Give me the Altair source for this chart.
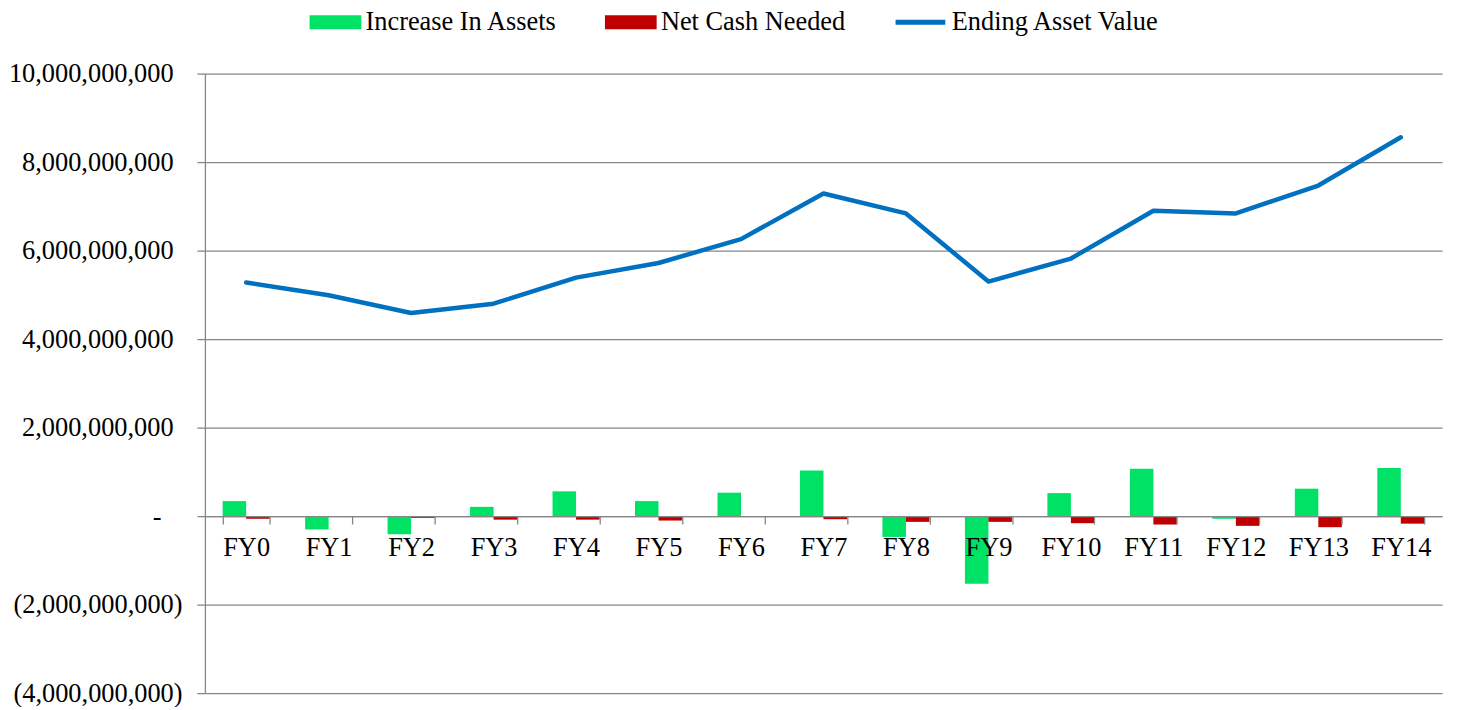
import altair as alt
import pandas as pd

years = ["FY0", "FY1", "FY2", "FY3", "FY4", "FY5", "FY6", "FY7",
         "FY8", "FY9", "FY10", "FY11", "FY12", "FY13", "FY14"]

# values in billions
increase_in_assets = [0.34, -0.30, -0.41, 0.21, 0.56, 0.34, 0.53, 1.03,
                      -0.47, -1.53, 0.52, 1.07, -0.06, 0.62, 1.09]
net_cash_needed = [-0.06, -0.02, -0.04, -0.08, -0.08, -0.10, -0.01, -0.07,
                   -0.13, -0.13, -0.16, -0.19, -0.22, -0.25, -0.17]
ending_asset_value = [5.28, 4.99, 4.59, 4.80, 5.39, 5.72, 6.26, 7.29,
                      6.84, 5.30, 5.82, 6.90, 6.84, 7.47, 8.56]

bar_series = ["Increase In Assets", "Net Cash Needed"]
bar_colors = ["#00E266", "#C00000"]
line_series = ["Ending Asset Value"]
line_colors = ["#0070C0"]
y_ticks = [-4e9, -2e9, 0, 2e9, 4e9, 6e9, 8e9, 10e9]

B = 1e9
bars_rows = []
for y, a, n in zip(years, increase_in_assets, net_cash_needed):
    bars_rows.append({"year": y, "series": bar_series[0], "value": a * B})
    bars_rows.append({"year": y, "series": bar_series[1], "value": n * B})
bars_df = pd.DataFrame(bars_rows)
line_df = pd.DataFrame({"year": years, "series": line_series[0],
                        "value": [v * B for v in ending_asset_value]})

FONT = "Liberation Serif"
FS = 26.5
GRAY = "#868686"
# legend key: 52 x 14 px rectangle drawn with a small nominal symbol size
RECT = "M-3.714,-1L3.714,-1L3.714,1L-3.714,1Z"

label_expr = (
    "datum.value == 0 ? '-' : "
    "(datum.value < 0 ? '(' + format(-datum.value, ',') + ')' : "
    "format(datum.value, ','))"
)

x_enc = alt.X(
    "year:N", sort=years,
    scale=alt.Scale(paddingInner=0.43, paddingOuter=0.215),
    axis=alt.Axis(title=None, orient="bottom", offset=-178, tickBand="extent",
                  tickSize=8, tickColor=GRAY, domainColor=GRAY, labelAngle=0,
                  tickWidth=1.3, domainWidth=1.3,
                  labelPadding=11, labelFont=FONT, labelFontSize=FS,
                  labelColor="black", zindex=1, grid=False, labelLimit=0),
)
y_enc = alt.Y(
    "value:Q",
    scale=alt.Scale(domain=[-4e9, 10e9], nice=False, zero=False),
    axis=alt.Axis(
        title=None, values=y_ticks, labelExpr=label_expr,
        grid=True, gridColor=GRAY, domainColor=GRAY, tickColor=GRAY,
        gridWidth=1.3, domainWidth=1.3, tickWidth=1.3,
        tickSize=8, labelFont=FONT, labelFontSize=FS, labelColor="black",
        labelLimit=0,
        labelPadding={"condition": [
            {"test": "datum.value < 0", "value": 15},
            {"test": "datum.value == 0", "value": 36},
        ], "value": 24},
    ),
)

bars = alt.Chart(bars_df).mark_bar().encode(
    x=x_enc,
    xOffset=alt.XOffset("series:N", sort=bar_series,
                        scale=alt.Scale(paddingInner=0, paddingOuter=0)),
    y=y_enc,
    color=alt.Color(
        "series:N",
        scale=alt.Scale(domain=bar_series, range=bar_colors),
        legend=alt.Legend(
            title=None, orient="none", legendX=118, legendY=-65,
            direction="horizontal", labelFont=FONT, labelFontSize=FS,
            labelColor="black", symbolType=RECT, symbolSize=196,
            symbolStrokeWidth=0, symbolOpacity=1, labelOffset=17,
            columnPadding=47, padding=0, labelLimit=0,
        ),
    ),
)

line = alt.Chart(line_df).mark_line(
    strokeWidth=4.5, strokeCap="round", strokeJoin="round"
).encode(
    x=x_enc, y=y_enc,
    stroke=alt.Stroke(
        "series:N",
        scale=alt.Scale(domain=line_series, range=line_colors),
        legend=alt.Legend(
            title=None, orient="none", legendX=692, legendY=-79,
            direction="horizontal", labelFont=FONT, labelFontSize=FS,
            labelColor="black", symbolType="stroke", symbolSize=2500,
            symbolStrokeWidth=5, symbolOpacity=1, labelOffset=4, padding=0,
            labelLimit=0,
        ),
    ),
)

chart = alt.layer(bars, line).resolve_scale(color="independent").properties(
    width=1244, height=623,
    padding={"left": 198, "top": 64, "right": 8, "bottom": 12},
    autosize=alt.AutoSizeParams(type="none"),
).configure_view(stroke=None)

chart.save("out.html", embed_options={"renderer": "svg", "actions": False})
